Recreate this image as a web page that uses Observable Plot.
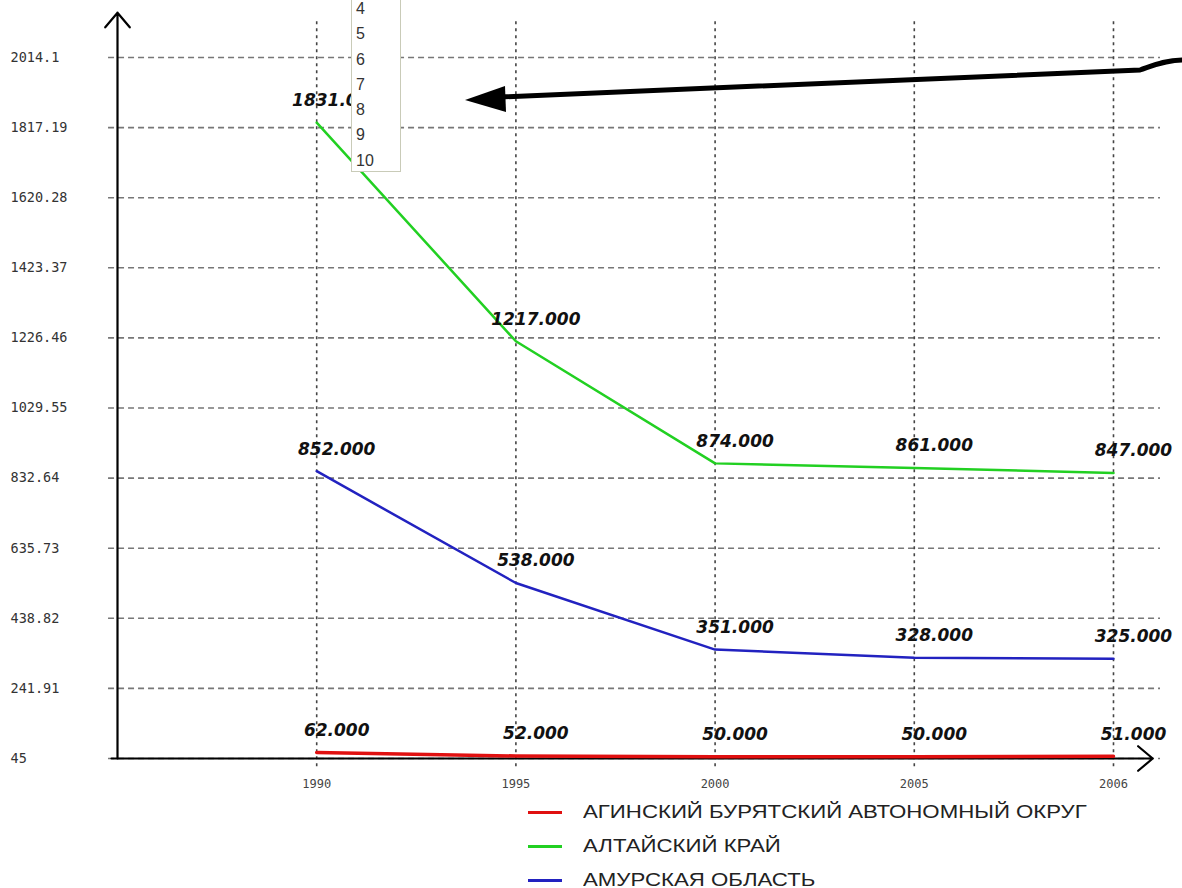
<!DOCTYPE html>
<html>
<head>
<meta charset="utf-8">
<script src="https://cdn.jsdelivr.net/npm/d3@7"></script>
<script src="https://cdn.jsdelivr.net/npm/@observablehq/plot@0.6"></script>
<style>
  body { margin: 0; background: #fff; }
  #wrap { position: relative; width: 1182px; height: 888px; overflow: hidden; }
  #legend { padding-top: 5px; margin-left: 528px; font-family: "Liberation Sans", Arial, sans-serif; font-size: 17.5px; color: #222; }
  .row { height: 34px; display: flex; align-items: center; }
  .sw { width: 34px; height: 3px; margin-right: 21px; }
  .lt { display: inline-block; transform: scaleX(1.27); transform-origin: left center; white-space: nowrap; }
  #dropdown { position: absolute; left: 351px; top: -2px; width: 50px; height: 174px; background: #fff; border: 1px solid #c9cbb8; font-family: "Liberation Sans", Arial, sans-serif; font-size: 16px; color: #333; box-sizing: border-box; padding-left: 4px; }
  #dropdown div { height: 25.3px; line-height: 20px; }
  #anno { position: absolute; left: 0; top: 0; pointer-events: none; }
</style>
</head>
<body>
<div id="wrap">
  <div id="chart"></div>
  <div id="legend"></div>
  <div id="dropdown"></div>
  <svg id="anno" width="1182" height="200"></svg>
</div>
<script>
const years = ["1990", "1995", "2000", "2005", "2006"];
const aginsky = [62, 52, 50, 50, 51];
const altai = [1831, 1217, 874, 861, 847];
const amur = [852, 538, 351, 328, 325];
const seriesNames = ["АГИНСКИЙ БУРЯТСКИЙ АВТОНОМНЫЙ ОКРУГ", "АЛТАЙСКИЙ КРАЙ", "АМУРСКАЯ ОБЛАСТЬ"];
const seriesColors = ["#e01010", "#22d022", "#2222c0"];
const yTicks = [45, 241.91, 438.82, 635.73, 832.64, 1029.55, 1226.46, 1423.37, 1620.28, 1817.19, 2014.1];
const dropdownItems = ["4", "5", "6", "7", "8", "9", "10"];

const seriesValues = [aginsky, altai, amur];
const rows = seriesNames.flatMap((name, s) =>
  seriesValues[s].map((v, i) => ({i, year: years[i], value: v, series: name})));
const redRows = rows.filter(d => d.series === seriesNames[0]);
const otherRows = rows.filter(d => d.series !== seriesNames[0]);
const idx = years.map((_, i) => i);

const chart = Plot.plot({
  width: 1182,
  height: 790,
  marginLeft: 117,
  marginRight: 22,
  marginTop: 12,
  marginBottom: 32,
  style: {background: "#fff", overflow: "visible"},
  x: {type: "linear", domain: [-1, 4.236], label: null},
  y: {domain: [45, 2140.5], label: null},
  color: {domain: seriesNames, range: seriesColors},
  marks: [
    Plot.ruleY(yTicks, {x1: -1.045, x2: 4.236, stroke: "#777", strokeWidth: 1.6, strokeDasharray: "6,4"}),
    Plot.ruleX(idx, {y1: 22, y2: 2118, stroke: "#444", strokeWidth: 1.6, strokeDasharray: "3,4"}),
    Plot.axisY({ticks: yTicks, tickSize: 0, tickPadding: 107, textAnchor: "start", tickFormat: d => String(d), label: null,
      fontSize: 13.5, fontFamily: "DejaVu Sans Mono, monospace", fill: "#333"}),
    Plot.axisX({ticks: idx, tickSize: 0, tickPadding: 21, tickFormat: i => years[i], label: null,
      fontSize: 12, fontFamily: "DejaVu Sans Mono, monospace", fill: "#444"}),
    Plot.arrow([0], {x1: -1, y1: 45, x2: -1, y2: 2140, stroke: "#000", strokeWidth: 2.2, headLength: 13, headAngle: 80}),
    Plot.arrow([0], {x1: -1.03, y1: 45, x2: 4.197, y2: 45, stroke: "#000", strokeWidth: 2.2, headLength: 13, headAngle: 80}),
    Plot.line(otherRows, {x: "i", y: "value", z: "series", stroke: "series", strokeWidth: 2.5}),
    Plot.line(redRows, {x: "i", y: "value", z: "series", stroke: "series", strokeWidth: 3.5}),
    Plot.text(rows, {x: "i", y: "value", text: d => d.value.toFixed(3), dx: 20, dy: -22,
      fontSize: 17, fontWeight: "bold", fontStyle: "italic", fontFamily: "DejaVu Sans, sans-serif",
      fill: "#111", letterSpacing: "1.3px"})
  ]
});
document.getElementById("chart").appendChild(chart);

const legend = document.getElementById("legend");
seriesNames.forEach((n, k) => {
  const r = document.createElement("div");
  r.className = "row";
  r.innerHTML = `<span class="sw" style="background:${seriesColors[k]}"></span><span class="lt">${n}</span>`;
  legend.appendChild(r);
});

const dd = document.getElementById("dropdown");
dropdownItems.forEach(t => { const e = document.createElement("div"); e.textContent = t; dd.appendChild(e); });

const anno = document.getElementById("anno");
anno.innerHTML = `<path d="M1182,60 C1165,60 1152,66 1140,70 L500,97" fill="none" stroke="#000" stroke-width="5"/>
<polygon points="465,100 505,86 506,112" fill="#000"/>`;
</script>
</body>
</html>
